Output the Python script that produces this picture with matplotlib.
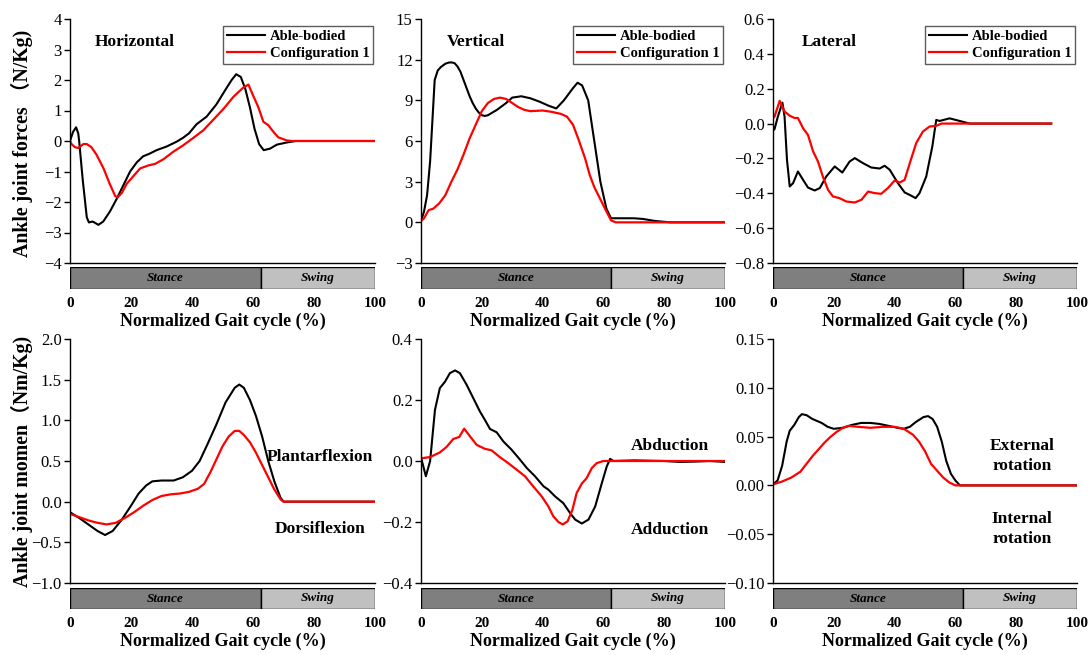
import matplotlib
matplotlib.use("Agg")
import matplotlib.pyplot as plt
from matplotlib.ticker import FuncFormatter

plt.rcParams['font.family'] = ['Liberation Serif', 'Noto Sans CJK SC']
plt.rcParams['axes.unicode_minus'] = True

# ---------------- data ----------------
hx_ab = [0, 1, 2, 2.7, 3, 4.2, 5.5, 6.2, 7.4, 8.5, 9.3, 10.9, 13.1, 15.3, 17.5, 19.7, 21.9, 24, 26, 28.4, 31.7, 35, 37,
         39, 41.5, 44.8, 48, 51.4, 53, 54.5, 56, 57.5, 59, 60.5, 62, 63.5, 65.6, 67.8, 71, 74, 80, 90, 100]
hy_ab = [0, 0.3, 0.45, 0.25, 0.0, -1.3, -2.5, -2.67, -2.64, -2.7, -2.75, -2.64, -2.31, -1.9, -1.45, -1.0, -0.7, -0.5,
         -0.42, -0.3, -0.18, -0.02, 0.1, 0.25, 0.55, 0.8, 1.2, 1.75, 2.0, 2.19, 2.1, 1.7, 1.1, 0.4, -0.1, -0.3, -0.25,
         -0.12, -0.05, 0, 0, 0, 0]
hx_c1 = [0, 0.5, 1.6, 2.7, 4.4, 5.5, 7, 8.7, 11, 13, 14.8, 15.6, 17, 18.6, 20.8, 23, 25.7, 27.9, 30.6, 33.9, 37, 40.4,
         43.7, 47, 50.3, 53.6, 56.8, 58.5, 60, 61.7, 63.4, 65, 66.7, 68.3, 71, 72.7, 80, 90, 100]
hy_c1 = [0, -0.1, -0.2, -0.23, -0.1, -0.1, -0.2, -0.45, -0.9, -1.4, -1.8, -1.85, -1.7, -1.4, -1.15, -0.9, -0.8, -0.75,
         -0.6, -0.35, -0.15, 0.1, 0.35, 0.7, 1.05, 1.45, 1.75, 1.85, 1.5, 1.12, 0.63, 0.52, 0.3, 0.12, 0.02, 0, 0, 0, 0]

vx_ab = [0, 1, 2, 3, 3.5, 4.5, 5.5, 6.5, 8, 9, 10, 11, 12, 13, 14, 15, 16, 17, 18, 19, 20, 21, 22, 25, 28, 30, 33, 36,
         39, 42, 44.5, 47, 50, 51.5, 53, 55, 57, 59, 61, 62.5, 65, 70, 73, 77, 82, 90, 100]
vy_ab = [0.1, 0.8, 2, 4.5, 6.5, 10.5, 11.2, 11.45, 11.7, 11.78, 11.8, 11.75, 11.5, 11.1, 10.5, 9.9, 9.3, 8.8, 8.4, 8.1,
         7.9, 7.85, 7.9, 8.3, 8.8, 9.2, 9.3, 9.15, 8.9, 8.6, 8.4, 9.0, 9.9, 10.3, 10.1, 9.0, 6.0, 3.0, 1.0, 0.3, 0.3,
         0.3, 0.25, 0.1, 0, 0, 0]
vx_c1 = [0, 1, 2.5, 4, 6, 8, 10, 12, 14, 16, 18, 20, 22, 24, 26, 28, 30, 32, 34, 36, 40, 43, 46, 48, 50, 52, 54, 55.5,
         57, 59, 61, 62.5, 64, 80, 100]
vy_c1 = [0.1, 0.3, 0.9, 1.0, 1.4, 2.0, 3.0, 3.9, 5.0, 6.2, 7.2, 8.2, 8.8, 9.1, 9.2, 9.1, 8.8, 8.5, 8.3, 8.2, 8.25, 8.15,
         8.0, 7.8, 7.2, 6.0, 4.7, 3.5, 2.6, 1.7, 0.8, 0.15, 0, 0, 0]

lx_ab = [0, 0.5, 1.6, 3.1, 3.8, 4.6, 5.5, 6.6, 8.2, 9.9, 11.5, 13.7, 15.4, 17.5, 20.3, 22.8, 25.2, 26.9, 29.6, 32.3,
         35.1, 36.7, 38.4, 41.1, 43.3, 45.5, 46.9, 48.2, 50.4, 52.4, 53.7, 54.8, 58.1, 61.4, 64.7, 91.5]
ly_ab = [-0.04, -0.032, 0.04, 0.12, 0.04, -0.208, -0.361, -0.342, -0.275, -0.323, -0.367, -0.384, -0.37, -0.304,
         -0.246, -0.281, -0.218, -0.198, -0.227, -0.252, -0.258, -0.242, -0.265, -0.342, -0.395, -0.414, -0.428,
         -0.399, -0.304, -0.132, 0.021, 0.015, 0.03, 0.015, 0.0, 0.0]
lx_c1 = [0, 0.5, 2.2, 3.8, 5.5, 7.1, 8.2, 9.9, 11.5, 13.2, 14.8, 16.4, 18.1, 19.7, 21.9, 24.1, 26.9, 29.1, 31.3, 33.4,
         35.6, 37.8, 40, 41.7, 43.3, 45, 47.1, 49.3, 51.5, 53.7, 55.4, 91.5]
ly_c1 = [0.03, 0.04, 0.13, 0.069, 0.045, 0.032, 0.032, -0.027, -0.065, -0.16, -0.218, -0.304, -0.38, -0.418, -0.428,
         -0.447, -0.453, -0.437, -0.39, -0.399, -0.403, -0.37, -0.327, -0.338, -0.323, -0.227, -0.112, -0.046,
         -0.017, -0.013, 0.0, 0.0]

mx_ab = [0, 3, 6, 9, 11.5, 14, 17, 20, 22.5, 25, 27, 30, 34, 37, 40, 42.5, 45, 48, 51, 54, 55.5, 57, 59, 61, 63, 65,
         67, 69, 70, 80, 100]
my_ab = [-0.13, -0.2, -0.28, -0.36, -0.41, -0.36, -0.22, -0.05, 0.1, 0.2, 0.25, 0.26, 0.26, 0.3, 0.38, 0.5, 0.7, 0.95,
         1.22, 1.4, 1.44, 1.4, 1.25, 1.05, 0.8, 0.5, 0.25, 0.05, 0, 0, 0]
mx_c1 = [0, 3, 6, 9, 12, 15, 18, 21, 24, 27, 30, 33, 36, 39, 42, 44, 46, 48, 50, 52, 54, 55.5, 57, 59, 61, 63, 65, 67,
         69, 70, 80, 100]
my_c1 = [-0.15, -0.19, -0.23, -0.26, -0.28, -0.26, -0.2, -0.13, -0.05, 0.02, 0.07, 0.09, 0.1, 0.12, 0.16, 0.22, 0.36,
         0.52, 0.68, 0.8, 0.87, 0.87, 0.82, 0.73, 0.6, 0.45, 0.3, 0.15, 0.03, 0, 0, 0]

fx_ab = [0, 0.2, 1.6, 3.0, 4.6, 6.2, 7.9, 9.5, 11.2, 12.8, 15, 17.2, 19.4, 21, 22.7, 24.9, 27.1, 29.8, 32.6, 34.8,
         37.5, 40.3, 41.9, 44.1, 46.8, 49, 50.7, 52.9, 55.1, 57.3, 59.5, 61.1, 62.2, 63.3, 70, 80, 85, 90, 95, 100]
fy_ab = [0.0, 0.004, -0.05, 0.0, 0.168, 0.239, 0.26, 0.288, 0.297, 0.288, 0.25, 0.206, 0.162, 0.135, 0.105, 0.094,
         0.064, 0.037, 0.004, -0.023, -0.05, -0.083, -0.094, -0.116, -0.138, -0.17, -0.192, -0.205, -0.192, -0.149,
         -0.072, -0.018, 0.007, 0.0, 0.002, 0.0, -0.003, -0.002, 0.0, -0.003]
fx_c1 = [0, 0.2, 3.0, 6.2, 8.4, 10.6, 12.6, 14.2, 16.1, 18.3, 21, 23.2, 25.9, 28.7, 31.4, 34.2, 36.9, 39.7, 41.9, 43.5,
         45.2, 46.6, 48.2, 49.8, 51.2, 52.9, 54.5, 56.2, 57.8, 60, 100]
fy_c1 = [0.008, 0.009, 0.013, 0.028, 0.046, 0.072, 0.079, 0.106, 0.081, 0.053, 0.04, 0.035, 0.013, -0.007, -0.028,
         -0.05, -0.083, -0.116, -0.149, -0.181, -0.2, -0.208, -0.198, -0.16, -0.105, -0.074, -0.056, -0.023, -0.007,
         0.0, 0.0]

rx_ab = [0, 1.5, 3, 4.5, 5.5, 7, 8.5, 9.5, 11, 13, 16, 18, 20, 23, 26, 29, 32, 35, 38, 41, 43, 45, 47, 49.5, 51, 52.5,
         54, 55.5, 57, 58.5, 60, 61.5, 100]
ry_ab = [0.001, 0.005, 0.02, 0.045, 0.056, 0.062, 0.07, 0.073, 0.072, 0.068, 0.064, 0.06, 0.058, 0.059, 0.062, 0.064,
         0.064, 0.063, 0.061, 0.059, 0.058, 0.06, 0.065, 0.07, 0.071, 0.068, 0.06, 0.045, 0.025, 0.012, 0.005, 0.0, 0]
rx_c1 = [0, 3, 6, 9, 11, 13, 15, 17, 19, 21, 23, 25, 28, 32, 36, 40, 43, 46, 48, 50, 52, 54, 56, 58, 60, 100]
ry_c1 = [0.001, 0.004, 0.008, 0.014, 0.022, 0.03, 0.037, 0.044, 0.05, 0.055, 0.059, 0.061, 0.06, 0.059, 0.06, 0.06,
         0.058, 0.052, 0.045, 0.035, 0.022, 0.015, 0.008, 0.003, 0.0, 0]

series_names = ["Able-bodied", "Configuration 1"]
stance_end = 62.5
xticks = [0, 20, 40, 60, 80, 100]

panels = [
    dict(ab=(hx_ab, hy_ab), c1=(hx_c1, hy_c1), ylim=(-4, 4), yticks=[-4, -3, -2, -1, 0, 1, 2, 3, 4], fmt='%d',
         title="Horizontal", tx=0.082),
    dict(ab=(vx_ab, vy_ab), c1=(vx_c1, vy_c1), ylim=(-3, 15), yticks=[-3, 0, 3, 6, 9, 12, 15], fmt='%d',
         title="Vertical", tx=0.086),
    dict(ab=(lx_ab, ly_ab), c1=(lx_c1, ly_c1), ylim=(-0.8, 0.6), yticks=[-0.8, -0.6, -0.4, -0.2, 0.0, 0.2, 0.4, 0.6],
         fmt='%.1f', title="Lateral", tx=0.095),
    dict(ab=(mx_ab, my_ab), c1=(mx_c1, my_c1), ylim=(-1.0, 2.0), yticks=[-1.0, -0.5, 0.0, 0.5, 1.0, 1.5, 2.0],
         fmt='%.1f', notes=[("Plantarflexion", 0.55), ("Dorsiflexion", -0.34)]),
    dict(ab=(fx_ab, fy_ab), c1=(fx_c1, fy_c1), ylim=(-0.4, 0.4), yticks=[-0.4, -0.2, 0.0, 0.2, 0.4], fmt='%.1f',
         notes=[("Abduction", 0.05), ("Adduction", -0.227)]),
    dict(ab=(rx_ab, ry_ab), c1=(rx_c1, ry_c1), ylim=(-0.10, 0.15),
         yticks=[-0.10, -0.05, 0.0, 0.05, 0.10, 0.15], fmt='%.2f',
         notes=[("External\nrotation", 0.030), ("Internal\nrotation", -0.045)]),
]

# ---------------- layout ----------------
W, H = 1092, 655
fig = plt.figure(figsize=(W / 100, H / 100), dpi=100)

col_left = [70, 421, 773]
col_w = [305, 304, 304]
main_top = [19, 339]
main_bot = [263, 583]
bar_top = [267, 588]
bar_bot = [289, 609]


def frac_rect(l, t, w, b):
    return [l / W, 1 - b / H, w / W, (b - t) / H]


def make_fmt(fmt):
    def f(v, pos):
        s = fmt % v
        if s.lstrip('-').strip('0.') == '':
            s = s.lstrip('-')
        return s.replace('-', '\u2212')
    return FuncFormatter(f)


for i, p in enumerate(panels):
    r, c = divmod(i, 3)
    ax = fig.add_axes(frac_rect(col_left[c], main_top[r], col_w[c], main_bot[r]))
    bx = fig.add_axes(frac_rect(col_left[c], bar_top[r], col_w[c], bar_bot[r]))

    ax.plot(*p['ab'], color='black', lw=1.5, label=series_names[0], solid_joinstyle='round')
    ax.plot(*p['c1'], color='#ff0000', lw=1.6, label=series_names[1], solid_joinstyle='round')
    ax.set_xlim(0, 100)
    ax.set_ylim(*p['ylim'])
    ax.set_yticks(p['yticks'])
    ax.yaxis.set_major_formatter(make_fmt(p['fmt']))
    ax.set_xticks([])
    for s in ['top', 'right']:
        ax.spines[s].set_visible(False)
    for s in ['left', 'bottom']:
        ax.spines[s].set_linewidth(1.0)
    ax.tick_params(axis='y', direction='out', length=4, width=1.0, labelsize=12, pad=2)
    for lab in ax.get_yticklabels():
        lab.set_fontfamily('Liberation Serif')

    if 'title' in p:
        ax.text(p['tx'], 0.907, p['title'], transform=ax.transAxes, fontsize=12.5, fontweight='bold',
                ha='left', va='center')
        leg = ax.legend(loc='upper right', bbox_to_anchor=(0.995, 0.97), frameon=True, fancybox=False,
                        edgecolor='#333333', prop=dict(family='Liberation Serif', weight='bold', size=10.5),
                        handlelength=2.6, handletextpad=0.35, borderpad=0.25, labelspacing=0.25,
                        borderaxespad=0.0)
        leg.get_frame().set_linewidth(1.0)
    for txt, yv in p.get('notes', []):
        ax.text(82, yv, txt, fontsize=12.5, fontweight='bold', ha='center', va='center', linespacing=1.35)

    # stance / swing bar
    bx.set_xlim(0, 100)
    bx.set_ylim(0, 1)
    bx.barh(0.5, stance_end, left=0, height=1, color='#7f7f7f', edgecolor='black', lw=1.0)
    bx.barh(0.5, 100 - stance_end, left=stance_end, height=1, color='#c0c0c0', edgecolor='black', lw=1.0)
    bx.text(stance_end / 2, 0.5, "Stance", ha='center', va='center', fontsize=9.5, fontweight='bold',
            fontstyle='italic')
    bx.text((stance_end + 100) / 2, 0.5, "Swing", ha='center', va='center', fontsize=9.5, fontweight='bold',
            fontstyle='italic')
    for s in bx.spines.values():
        s.set_visible(False)
    bx.set_yticks([])
    bx.set_xticks(xticks)
    bx.set_xticklabels([str(t) for t in xticks], fontweight='bold', fontsize=11)
    bx.tick_params(axis='x', length=0, pad=6)
    bx.set_xlabel("Normalized Gait cycle (%)", fontsize=13, fontweight='bold', labelpad=2)

fig.text(22 / W, 1 - 143 / H, "Ankle joint forces （N/Kg)", rotation=90, ha='center', va='center',
         fontsize=14.3, fontweight='bold')
fig.text(22 / W, 1 - 461 / H, "Ankle joint momen（Nm/Kg)", rotation=90, ha='center', va='center',
         fontsize=14.3, fontweight='bold')

fig.savefig("out.png", dpi=100)
